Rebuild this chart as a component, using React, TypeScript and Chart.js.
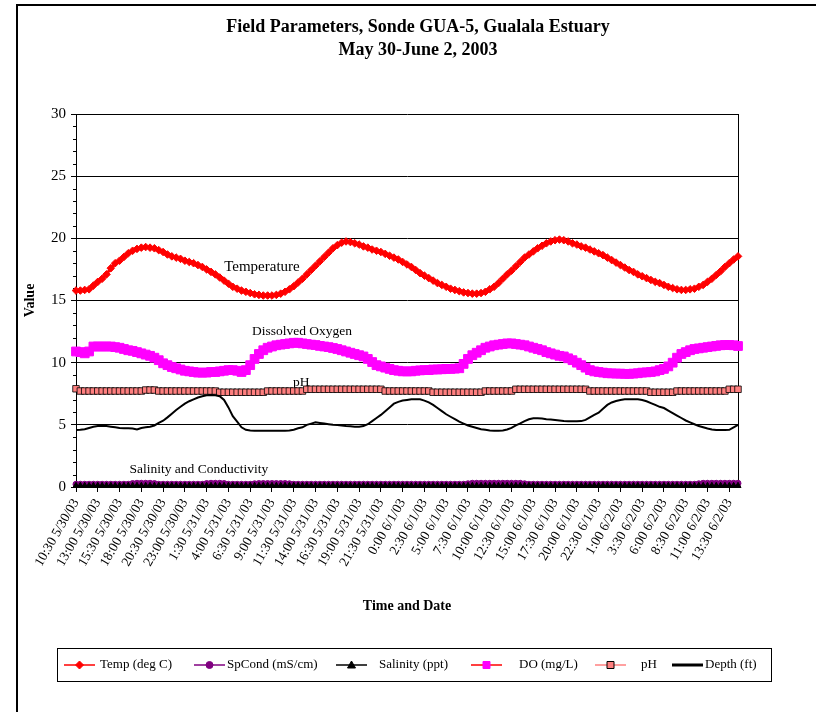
import React, { useEffect, useRef } from 'react';
import { Chart, registerables } from 'chart.js';

Chart.register(...registerables);

const TICK_LABELS = [
  '10:30 5/30/03', '13:00 5/30/03', '15:30 5/30/03', '18:00 5/30/03', '20:30 5/30/03', '23:00 5/30/03',
  '1:30 5/31/03', '4:00 5/31/03', '6:30 5/31/03', '9:00 5/31/03', '11:30 5/31/03', '14:00 5/31/03',
  '16:30 5/31/03', '19:00 5/31/03', '21:30 5/31/03', '0:00 6/1/03', '2:30 6/1/03', '5:00 6/1/03',
  '7:30 6/1/03', '10:00 6/1/03', '12:30 6/1/03', '15:00 6/1/03', '17:30 6/1/03', '20:00 6/1/03',
  '22:30 6/1/03', '1:00 6/2/03', '3:30 6/2/03', '6:00 6/2/03', '8:30 6/2/03', '11:00 6/2/03', '13:30 6/2/03',
];
const TICK_EVERY = 5;

const TEMP = [
  15.8, 15.8, 15.85, 15.9, 16.2, 16.5, 16.75, 17.1, 17.6, 18.0,
  18.2, 18.5, 18.8, 19.0, 19.15, 19.25, 19.3, 19.25, 19.2, 19.05,
  18.9, 18.7, 18.55, 18.45, 18.35, 18.2, 18.1, 18.0, 17.85, 17.7,
  17.5, 17.3, 17.1, 16.85, 16.6, 16.35, 16.1, 15.95, 15.8, 15.7,
  15.6, 15.5, 15.45, 15.4, 15.4, 15.4, 15.45, 15.55, 15.7, 15.9,
  16.15, 16.45, 16.75, 17.1, 17.45, 17.8, 18.15, 18.5, 18.85, 19.2,
  19.45, 19.65, 19.75, 19.7, 19.6, 19.5, 19.35, 19.25, 19.1, 19.0,
  18.9, 18.75, 18.6, 18.45, 18.3, 18.1, 17.9, 17.7, 17.45, 17.2,
  17.0, 16.8, 16.6, 16.4, 16.25, 16.1, 15.95, 15.85, 15.75, 15.65,
  15.6, 15.55, 15.55, 15.6, 15.7, 15.9, 16.1, 16.4, 16.75, 17.1,
  17.4, 17.75, 18.1, 18.45, 18.7, 18.95, 19.2, 19.4, 19.6, 19.75,
  19.85, 19.9, 19.85, 19.75, 19.6, 19.5, 19.35, 19.25, 19.1, 18.95,
  18.8, 18.65, 18.45, 18.25, 18.05, 17.85, 17.65, 17.45, 17.3, 17.1,
  16.95, 16.8, 16.65, 16.5, 16.4, 16.25, 16.1, 16.0, 15.9, 15.85,
  15.85, 15.9, 15.95, 16.1, 16.25, 16.5, 16.75, 17.05, 17.35, 17.7,
  18.0, 18.3, 18.55,
];

const SPCOND = [
  0.22, 0.22, 0.22, 0.22, 0.22, 0.22, 0.22, 0.22, 0.22, 0.22,
  0.22, 0.22, 0.22, 0.28, 0.3, 0.3, 0.3, 0.3, 0.28, 0.22,
  0.22, 0.22, 0.22, 0.22, 0.22, 0.22, 0.22, 0.22, 0.22, 0.22,
  0.28, 0.3, 0.3, 0.3, 0.28, 0.22, 0.22, 0.22, 0.22, 0.22,
  0.22, 0.26, 0.28, 0.28, 0.28, 0.28, 0.28, 0.28, 0.28, 0.26,
  0.22, 0.22, 0.22, 0.22, 0.22, 0.22, 0.22, 0.22, 0.22, 0.22,
  0.22, 0.22, 0.22, 0.22, 0.22, 0.22, 0.22, 0.22, 0.22, 0.22,
  0.22, 0.22, 0.22, 0.22, 0.22, 0.22, 0.22, 0.22, 0.22, 0.22,
  0.22, 0.22, 0.22, 0.22, 0.22, 0.22, 0.22, 0.22, 0.22, 0.22,
  0.26, 0.3, 0.3, 0.3, 0.3, 0.3, 0.3, 0.3, 0.3, 0.3,
  0.3, 0.3, 0.3, 0.26, 0.22, 0.22, 0.22, 0.22, 0.22, 0.22,
  0.22, 0.22, 0.22, 0.22, 0.22, 0.22, 0.22, 0.22, 0.22, 0.22,
  0.22, 0.22, 0.22, 0.22, 0.22, 0.22, 0.22, 0.22, 0.22, 0.22,
  0.22, 0.22, 0.22, 0.22, 0.22, 0.22, 0.22, 0.22, 0.22, 0.22,
  0.22, 0.22, 0.22, 0.26, 0.3, 0.3, 0.3, 0.3, 0.3, 0.3,
  0.3, 0.3, 0.3,
];

const SALINITY = [
  0.1, 0.1, 0.1, 0.1, 0.1, 0.1, 0.1, 0.1, 0.1, 0.1,
  0.1, 0.1, 0.1, 0.1, 0.1, 0.1, 0.1, 0.1, 0.1, 0.1,
  0.1, 0.1, 0.1, 0.1, 0.1, 0.1, 0.1, 0.1, 0.1, 0.1,
  0.1, 0.1, 0.1, 0.1, 0.1, 0.1, 0.1, 0.1, 0.1, 0.1,
  0.1, 0.1, 0.1, 0.1, 0.1, 0.1, 0.1, 0.1, 0.1, 0.1,
  0.1, 0.1, 0.1, 0.1, 0.1, 0.1, 0.1, 0.1, 0.1, 0.1,
  0.1, 0.1, 0.1, 0.1, 0.1, 0.1, 0.1, 0.1, 0.1, 0.1,
  0.1, 0.1, 0.1, 0.1, 0.1, 0.1, 0.1, 0.1, 0.1, 0.1,
  0.1, 0.1, 0.1, 0.1, 0.1, 0.1, 0.1, 0.1, 0.1, 0.1,
  0.1, 0.1, 0.1, 0.1, 0.1, 0.1, 0.1, 0.1, 0.1, 0.1,
  0.1, 0.1, 0.1, 0.1, 0.1, 0.1, 0.1, 0.1, 0.1, 0.1,
  0.1, 0.1, 0.1, 0.1, 0.1, 0.1, 0.1, 0.1, 0.1, 0.1,
  0.1, 0.1, 0.1, 0.1, 0.1, 0.1, 0.1, 0.1, 0.1, 0.1,
  0.1, 0.1, 0.1, 0.1, 0.1, 0.1, 0.1, 0.1, 0.1, 0.1,
  0.1, 0.1, 0.1, 0.1, 0.1, 0.1, 0.1, 0.1, 0.1, 0.1,
  0.1, 0.1, 0.1,
];

const DO = [
  10.9, 10.85, 10.75, 10.9, 11.3, 11.3, 11.3, 11.3, 11.3, 11.25,
  11.2, 11.1, 11.0, 10.95, 10.85, 10.75, 10.65, 10.55, 10.4, 10.2,
  9.95, 9.8, 9.65, 9.55, 9.45, 9.35, 9.3, 9.25, 9.2, 9.2,
  9.2, 9.25, 9.25, 9.3, 9.35, 9.4, 9.4, 9.35, 9.25, 9.4,
  9.8, 10.3, 10.7, 11.0, 11.2, 11.3, 11.4, 11.45, 11.5, 11.55,
  11.6, 11.6, 11.55, 11.5, 11.45, 11.42, 11.35, 11.3, 11.25, 11.18,
  11.1, 11.0, 10.9, 10.8, 10.7, 10.6, 10.5, 10.3, 10.05, 9.8,
  9.7, 9.6, 9.5, 9.4, 9.35, 9.3, 9.3, 9.3, 9.35, 9.38,
  9.4, 9.4, 9.45, 9.45, 9.47, 9.5, 9.5, 9.52, 9.55, 9.9,
  10.3, 10.6, 10.8, 11.0, 11.2, 11.3, 11.4, 11.45, 11.5, 11.55,
  11.55, 11.5, 11.45, 11.4, 11.3, 11.2, 11.1, 11.0, 10.85, 10.75,
  10.65, 10.55, 10.5, 10.35, 10.2, 10.0, 9.8, 9.6, 9.4, 9.3,
  9.25, 9.2, 9.15, 9.14, 9.12, 9.12, 9.1, 9.1, 9.12, 9.15,
  9.2, 9.22, 9.25, 9.3, 9.4, 9.5, 9.7, 10.0, 10.4, 10.7,
  10.85, 11.0, 11.1, 11.15, 11.2, 11.25, 11.3, 11.35, 11.4, 11.42,
  11.42, 11.4, 11.34,
];

const PH = [
  7.9, 7.72, 7.72, 7.72, 7.72, 7.72, 7.72, 7.72, 7.72, 7.72,
  7.72, 7.72, 7.72, 7.72, 7.72, 7.72, 7.8, 7.8, 7.8, 7.72,
  7.72, 7.72, 7.72, 7.72, 7.72, 7.72, 7.72, 7.72, 7.72, 7.72,
  7.72, 7.72, 7.72, 7.62, 7.62, 7.62, 7.62, 7.62, 7.62, 7.62,
  7.62, 7.62, 7.62, 7.62, 7.72, 7.72, 7.72, 7.72, 7.72, 7.72,
  7.72, 7.72, 7.72, 7.86, 7.86, 7.86, 7.86, 7.86, 7.86, 7.86,
  7.86, 7.86, 7.86, 7.86, 7.86, 7.86, 7.86, 7.86, 7.86, 7.86,
  7.86, 7.72, 7.72, 7.72, 7.72, 7.72, 7.72, 7.72, 7.72, 7.72,
  7.72, 7.72, 7.62, 7.62, 7.62, 7.62, 7.62, 7.62, 7.62, 7.62,
  7.62, 7.62, 7.62, 7.62, 7.72, 7.72, 7.72, 7.72, 7.72, 7.72,
  7.72, 7.86, 7.86, 7.86, 7.86, 7.86, 7.86, 7.86, 7.86, 7.86,
  7.86, 7.86, 7.86, 7.86, 7.86, 7.86, 7.86, 7.86, 7.72, 7.72,
  7.72, 7.72, 7.72, 7.72, 7.72, 7.72, 7.72, 7.72, 7.72, 7.72,
  7.72, 7.72, 7.62, 7.62, 7.62, 7.62, 7.62, 7.62, 7.72, 7.72,
  7.72, 7.72, 7.72, 7.72, 7.72, 7.72, 7.72, 7.72, 7.72, 7.72,
  7.86, 7.86, 7.86,
];

const DEPTH = [
  4.58, 4.6, 4.65, 4.75, 4.85, 4.9, 4.9, 4.9, 4.85, 4.8,
  4.75, 4.72, 4.72, 4.7, 4.62, 4.75, 4.8, 4.85, 4.95, 5.15,
  5.33, 5.6, 5.9, 6.2, 6.45, 6.7, 6.9, 7.05, 7.2, 7.3,
  7.38, 7.4, 7.38, 7.3, 7.0, 6.4, 5.7, 5.25, 4.8, 4.6,
  4.55, 4.53, 4.52, 4.52, 4.52, 4.52, 4.52, 4.52, 4.53, 4.55,
  4.6, 4.72, 4.8, 5.0, 5.1, 5.2, 5.15, 5.1, 5.05, 5.0,
  4.98, 4.95, 4.9, 4.88, 4.85, 4.85, 4.9, 5.05, 5.3, 5.55,
  5.8, 6.1, 6.4, 6.7, 6.85, 6.95, 7.0, 7.05, 7.05, 7.05,
  6.95, 6.8, 6.6, 6.35, 6.1, 5.85, 5.65, 5.45, 5.25, 5.1,
  4.95, 4.85, 4.75, 4.65, 4.6, 4.55, 4.53, 4.53, 4.55, 4.62,
  4.75, 4.95, 5.12, 5.3, 5.45, 5.53, 5.52, 5.5, 5.45, 5.42,
  5.38, 5.34, 5.3, 5.28, 5.28, 5.28, 5.3, 5.4, 5.6, 5.8,
  5.98, 6.3, 6.6, 6.8, 6.92, 7.0, 7.05, 7.05, 7.05, 7.05,
  7.0, 6.9, 6.75, 6.6, 6.45, 6.35, 6.15, 5.95, 5.75, 5.55,
  5.35, 5.2, 5.05, 4.9, 4.8, 4.7, 4.62, 4.58, 4.58, 4.58,
  4.6, 4.8, 5.0,
];

// category labels: half-hourly readings starting 10:30 on 5/30/03
const DATES = ['5/30/03', '5/31/03', '6/1/03', '6/2/03'];
const START_MINUTES = 10 * 60 + 30;
const STEP_MINUTES = 30;
const CATEGORIES: string[] = TEMP.map((_, i) => {
  const m = START_MINUTES + STEP_MINUTES * i;
  const day = Math.floor(m / 1440);
  const mm = m % 1440;
  return `${Math.floor(mm / 60)}:${String(mm % 60).padStart(2, '0')} ${DATES[day]}`;
});

const TITLE_LINES = ['Field Parameters, Sonde GUA-5, Gualala Estuary', 'May 30-June 2, 2003'];
const X_TITLE = 'Time and Date';
const Y_TITLE = 'Value';

const NOTES = [
  { text: 'Temperature', at: 42.7, value: 17.7, size: 15 },
  { text: 'Dissolved Oxygen', at: 51.9, value: 12.55, size: 13.5 },
  { text: 'pH', at: 51.7, value: 8.4, size: 13.5 },
  { text: 'Salinity and Conductivity', at: 28.2, value: 1.45, size: 13.5 },
];

const FONT = '"Liberation Serif", "Times New Roman", serif';

type LegendItem = {
  label: string;
  lineColor: string;
  lineWidth: number;
  marker: string | null;
  fill: string;
  stroke: string;
  lineX: number;
  textX: number;
};

const LEGEND: LegendItem[] = [
  { label: 'Temp (deg C)', lineColor: '#FF0000', lineWidth: 1.5, marker: 'diamond', fill: '#FF0000', stroke: '#FF0000', lineX: 64, textX: 100 },
  { label: 'SpCond (mS/cm)', lineColor: '#800080', lineWidth: 1.5, marker: 'circle', fill: '#800080', stroke: '#800080', lineX: 194, textX: 227 },
  { label: 'Salinity (ppt)', lineColor: '#000000', lineWidth: 1.5, marker: 'triangle', fill: '#000000', stroke: '#000000', lineX: 336, textX: 379 },
  { label: 'DO (mg/L)', lineColor: '#FF0000', lineWidth: 1.5, marker: 'square', fill: '#FF00FF', stroke: '#FF00FF', lineX: 471, textX: 519 },
  { label: 'pH', lineColor: '#FF8080', lineWidth: 1.5, marker: 'squareOutlined', fill: '#FF8080', stroke: '#000000', lineX: 595, textX: 641 },
  { label: 'Depth (ft)', lineColor: '#000000', lineWidth: 3, marker: null, fill: '#000', stroke: '#000', lineX: 672, textX: 705 },
];

function drawMarker(ctx: CanvasRenderingContext2D, kind: string, x: number, y: number, fill: string, stroke: string) {
  ctx.save();
  ctx.fillStyle = fill;
  ctx.strokeStyle = stroke;
  ctx.lineWidth = 1;
  ctx.beginPath();
  if (kind === 'diamond') {
    ctx.moveTo(x, y - 4); ctx.lineTo(x + 4, y); ctx.lineTo(x, y + 4); ctx.lineTo(x - 4, y); ctx.closePath();
  } else if (kind === 'circle') {
    ctx.arc(x, y, 3.5, 0, Math.PI * 2);
  } else if (kind === 'triangle') {
    ctx.moveTo(x, y - 4); ctx.lineTo(x + 4, y + 3); ctx.lineTo(x - 4, y + 3); ctx.closePath();
  } else {
    ctx.rect(x - 3.5, y - 3.5, 7, 7);
  }
  ctx.fill();
  ctx.stroke();
  ctx.restore();
}

const decorPlugin = {
  id: 'decor',
  beforeDatasetsDraw(chart: any) {
    const { ctx, chartArea, scales } = chart;
    const xs = scales.x;
    const ys = scales.y;
    ctx.save();
    ctx.strokeStyle = '#000';
    ctx.lineWidth = 1;
    // minor ticks on value axis
    for (let v = 0; v <= 30; v++) {
      if (v % 5 === 0) continue;
      const py = Math.round(ys.getPixelForValue(v)) + 0.5;
      ctx.beginPath();
      ctx.moveTo(chartArea.left - 3, py);
      ctx.lineTo(chartArea.left, py);
      ctx.stroke();
    }
    // right border of plot area
    ctx.beginPath();
    ctx.moveTo(Math.round(chartArea.right) + 0.5, chartArea.top);
    ctx.lineTo(Math.round(chartArea.right) + 0.5, chartArea.bottom);
    ctx.stroke();
    // series annotations
    ctx.fillStyle = '#000';
    ctx.textAlign = 'center';
    ctx.textBaseline = 'middle';
    for (const n of NOTES) {
      ctx.font = `${n.size}px ${FONT}`;
      ctx.fillText(n.text, xs.getPixelForValue(n.at), ys.getPixelForValue(n.value));
    }
    ctx.restore();
  },
  afterDraw(chart: any) {
    const { ctx, chartArea } = chart;
    ctx.save();
    // outer chart border
    ctx.strokeStyle = '#000';
    ctx.lineWidth = 2;
    ctx.beginPath();
    ctx.moveTo(17, 712);
    ctx.lineTo(17, 5);
    ctx.lineTo(816, 5);
    ctx.stroke();

    // title
    ctx.fillStyle = '#000';
    ctx.textAlign = 'center';
    ctx.textBaseline = 'middle';
    ctx.font = `bold 18px ${FONT}`;
    ctx.fillText(TITLE_LINES[0], 418, 27);
    ctx.fillText(TITLE_LINES[1], 418, 50);

    // axis titles
    ctx.font = `bold 14px ${FONT}`;
    ctx.fillText(X_TITLE, (chartArea.left + chartArea.right) / 2, 606);
    ctx.save();
    ctx.translate(30, (chartArea.top + chartArea.bottom) / 2);
    ctx.rotate(-Math.PI / 2);
    ctx.fillText(Y_TITLE, 0, 0);
    ctx.restore();

    // legend
    ctx.lineWidth = 1;
    ctx.strokeStyle = '#000';
    ctx.strokeRect(57.5, 648.5, 714, 33);
    const cy = 665;
    ctx.font = `13px ${FONT}`;
    ctx.textAlign = 'left';
    for (const it of LEGEND) {
      ctx.strokeStyle = it.lineColor;
      ctx.lineWidth = it.lineWidth;
      ctx.beginPath();
      ctx.moveTo(it.lineX, cy);
      ctx.lineTo(it.lineX + 31, cy);
      ctx.stroke();
      if (it.marker) drawMarker(ctx, it.marker, it.lineX + 15.5, cy, it.fill, it.stroke);
      ctx.fillStyle = '#000';
      ctx.fillText(it.label, it.textX, cy);
    }
    ctx.restore();
  },
};

export default function App() {
  const canvasRef = useRef<HTMLCanvasElement | null>(null);

  useEffect(() => {
    if (!canvasRef.current) return;
    const chart = new Chart(canvasRef.current, {
      type: 'line',
      data: {
        labels: CATEGORIES,
        datasets: [
          {
            label: 'Temp (deg C)', data: TEMP, order: 6,
            borderColor: '#FF0000', borderWidth: 3, pointStyle: 'rectRot', pointRadius: 3.8,
            pointBackgroundColor: '#FF0000', pointBorderColor: '#FF0000', pointBorderWidth: 1,
            tension: 0, clip: false,
          },
          {
            label: 'SpCond (mS/cm)', data: SPCOND, order: 5,
            borderColor: '#800080', borderWidth: 1.5, pointStyle: 'circle', pointRadius: 3,
            pointBackgroundColor: '#800080', pointBorderColor: '#800080', pointBorderWidth: 1,
            clip: false,
          },
          {
            label: 'Salinity (ppt)', data: SALINITY, order: 4,
            borderColor: '#000000', borderWidth: 1.5, pointStyle: 'triangle', pointRadius: 3.5,
            pointBackgroundColor: '#000000', pointBorderColor: '#000000', pointBorderWidth: 1,
            clip: false,
          },
          {
            label: 'DO (mg/L)', data: DO, order: 3,
            borderColor: '#FF0000', borderWidth: 1.5, pointStyle: 'rect', pointRadius: 6.2,
            pointBackgroundColor: '#FF00FF', pointBorderColor: '#FF00FF', pointBorderWidth: 1,
            clip: false,
          },
          {
            label: 'pH', data: PH, order: 2,
            borderColor: '#FF8080', borderWidth: 1.5, pointStyle: 'rect', pointRadius: 4.6,
            pointBackgroundColor: '#FF8080', pointBorderColor: '#000000', pointBorderWidth: 0.8,
            clip: false,
          },
          {
            label: 'Depth (ft)', data: DEPTH, order: 1,
            borderColor: '#000000', borderWidth: 2, pointRadius: 0,
            clip: false,
          },
        ],
      },
      options: {
        responsive: false,
        maintainAspectRatio: false,
        devicePixelRatio: 1,
        animation: false,
        events: [],
        layout: { padding: { top: 114, right: 78, bottom: 0, left: 0 } },
        plugins: {
          legend: { display: false },
          title: { display: false },
          tooltip: { enabled: false },
        },
        scales: {
          x: {
            type: 'category',
            offset: false,
            afterFit: (scale: any) => { scale.height = 225; },
            grid: {
              drawOnChartArea: false,
              drawTicks: true,
              tickLength: 5,
              color: '#000',
              tickColor: (c: any) => (c.index % TICK_EVERY === 0 ? '#000' : 'rgba(0,0,0,0)'),
            },
            border: { display: true, color: '#000', width: 1 },
            ticks: {
              autoSkip: false,
              maxRotation: 60,
              minRotation: 60,
              padding: 4,
              color: '#000',
              font: { family: FONT, size: 13.5 },
              callback: (_v: any, index: number) => (index % TICK_EVERY === 0 ? TICK_LABELS[index / TICK_EVERY] : ''),
            },
          },
          y: {
            type: 'linear',
            min: 0,
            max: 30,
            afterFit: (scale: any) => { scale.width = 76; },
            grid: { color: '#000', lineWidth: 1, tickLength: 5, drawTicks: true },
            border: { display: true, color: '#000', width: 1 },
            ticks: {
              stepSize: 5,
              padding: 5,
              color: '#000',
              font: { family: FONT, size: 15 },
            },
          },
        },
      },
      plugins: [decorPlugin],
    } as any);
    return () => chart.destroy();
  }, []);

  return (
    <div style={{ position: 'absolute', left: 0, top: 0, width: 816, height: 712, background: '#fff' }}>
      <canvas ref={canvasRef} width={816} height={712} style={{ display: 'block', width: 816, height: 712 }} />
    </div>
  );
}
